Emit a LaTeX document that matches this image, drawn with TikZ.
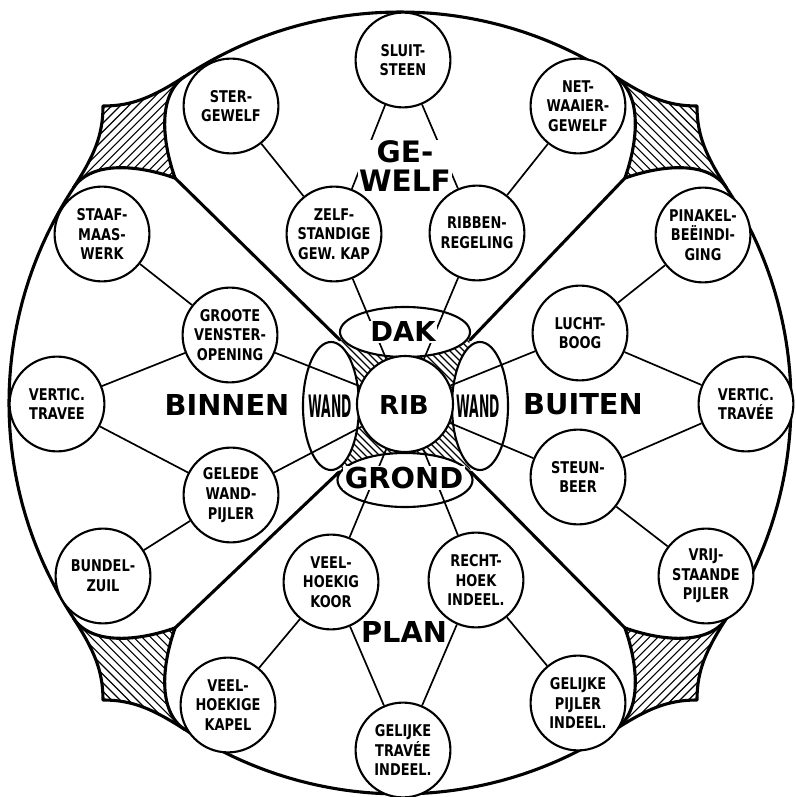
\documentclass[tikz,border=0pt]{standalone}
\usepackage{fontspec}
\usepackage{graphicx}
\setmainfont{DejaVu Sans}
\newfontfamily\circfont{DejaVu Sans}[FakeStretch=0.8]
\usetikzlibrary{shapes.geometric}

\tikzset{
  part/.style={circle, draw, line width=1.5pt, fill=white, minimum size=2.37cm,
    inner sep=0pt, align=center, font=\circfont\bfseries\fontsize{11.5}{14}\selectfont},
  core/.style={ellipse, draw, line width=1.5pt, fill=white, inner sep=0pt},
  biglabel/.style={font=\bfseries\fontsize{20.5}{20}\selectfont, align=center, inner sep=1pt},
  link/.style={line width=1.2pt},
  lobe/.style={line width=2.2pt, line join=round, line cap=round},
  hatchline/.style={line width=0.8pt},
}

\begin{document}
\begin{tikzpicture}[x=0.025cm, y=0.025cm]
    \useasboundingbox (-400,-394) rectangle (396,403);

    % the four lobes and the hatched corners between them
    \foreach \a in {45,135,225,315}{
      \begin{scope}[rotate=\a]
        \begin{scope}
          \clip (318,0) .. controls (350,-15) and (390,-45) .. (383,-79)
            .. controls (391,-42) and (399,-21) .. (420,0)
            .. controls (399,21) and (391,42) .. (383,79)
            .. controls (390,45) and (350,15) .. (318,0) -- cycle;
          \foreach \x in {318,324,...,426} \draw[hatchline] (\x,-90) -- (\x,90);
        \end{scope}
        \draw[lobe] (383,-79) .. controls (391,-42) and (399,-21) .. (420,0)
          .. controls (399,21) and (391,42) .. (383,79);
        \draw[lobe] (383,-79) .. controls (390,-45) and (350,-15) .. (318,0)
          .. controls (350,15) and (390,45) .. (383,79);
      \end{scope}
      \draw[lobe] ({\a+11.7}:391) arc[start angle=\a+11.7, end angle=\a+78.3, radius=391];
    }
    \foreach \a/\tx/\ty in {45/70/63, 135/-60/63, 225/-61/-69, 315/71/-69}
      \draw[lobe] (\tx,\ty) -- (\a:318);

    % hatching round the rib
    \begin{scope}
      \clip (-60,63) -- (-10,55) -- (5,-1) -- (-50,13) -- cycle
            (70,63) -- (20,55) -- (5,-1) -- (60,13) -- cycle
            (-61,-69) -- (-10,-62) -- (5,-1) -- (-50,-19) -- cycle
            (71,-69) -- (20,-62) -- (5,-1) -- (60,-19) -- cycle;
      \foreach \c in {-150,-143,...,150} \draw[hatchline] ({\c-100},100) -- ({\c+100},-100);
    \end{scope}

    % centre
    \node[core, minimum width=1.4cm, minimum height=3.2cm] (wandl) at (-69,-3) {};
    \node[core, minimum width=1.4cm, minimum height=3.2cm] (wandr) at (80,-3) {};
    \node[core, minimum width=3.25cm, minimum height=1.25cm] (dak) at (5,71) {};
    \node[core, minimum width=3.375cm, minimum height=1.35cm] (grond) at (5,-77) {};
    \node[core, circle, minimum size=2.4cm] (rib) at (5,-1) {};

    % gewelf
    \node[part] (sluit) at (3,343) {SLUIT-\\STEEN};
    \node[part] (ster) at (-169,297) {STER-\\GEWELF};
    \node[part] (net) at (178,297) {NET-\\WAAIER-\\GEWELF};
    \node[part] (zelf) at (-66,169) {ZELF-\\STANDIGE\\GEW. KAP};
    \node[part] (ribben) at (77,170) {RIBBEN-\\REGELING};
    % binnen
    \node[part] (staaf) at (-298,169) {STAAF-\\MAAS-\\WERK};
    \node[part] (groote) at (-170,68) {GROOTE\\VENSTER-\\OPENING};
    \node[part] (vertl) at (-343,-1) {VERTIC.\\TRAVEE};
    \node[part] (gelede) at (-169,-92) {GELEDE\\WAND-\\PIJLER};
    \node[part] (bundel) at (-297,-173) {BUNDEL-\\ZUIL};
    % buiten
    \node[part] (pinakel) at (303,168) {PINAKEL-\\BEËINDI-\\GING};
    \node[part] (lucht) at (180,70) {LUCHT-\\BOOG};
    \node[part] (vertr) at (346,-1) {VERTIC.\\TRAVÉE};
    \node[part] (steun) at (178,-74) {STEUN-\\BEER};
    \node[part] (vrij) at (306,-173) {VRIJ-\\STAANDE\\PIJLER};
    % plan
    \node[part] (koor) at (-69,-179) {VEEL-\\HOEKIG\\KOOR};
    \node[part] (recht) at (76,-177) {RECHT-\\HOEK\\INDEEL.};
    \node[part] (kapel) at (-172,-302) {VEEL-\\HOEKIGE\\KAPEL};
    \node[part] (travee) at (3,-347) {GELIJKE\\TRAVÉE\\INDEEL.};
    \node[part] (pijler) at (178,-300) {GELIJKE\\PIJLER\\INDEEL.};

    % connectors
    \foreach \p in {zelf,ribben,groote,gelede,lucht,steun,koor,recht}
      \draw[link] (rib) -- (\p);
    \draw[link] (sluit) -- (zelf);
    \draw[link] (sluit) -- (ribben);
    \draw[link] (ster) -- (zelf);
    \draw[link] (net) -- (ribben);
    \draw[link] (staaf) -- (groote);
    \draw[link] (vertl) -- (groote);
    \draw[link] (vertl) -- (gelede);
    \draw[link] (bundel) -- (gelede);
    \draw[link] (pinakel) -- (lucht);
    \draw[link] (vertr) -- (lucht);
    \draw[link] (vertr) -- (steun);
    \draw[link] (vrij) -- (steun);
    \draw[link] (koor) -- (kapel);
    \draw[link] (koor) -- (travee);
    \draw[link] (recht) -- (travee);
    \draw[link] (recht) -- (pijler);

    % labels
    \node[biglabel, fill=white, font=\bfseries\fontsize{19.5}{20}\selectfont] (daktxt) at (3,71) {DAK};
    \node[biglabel, fill=white] (grondtxt) at (4,-75) {GROND};
    \node[biglabel, font=\bfseries\fontsize{18.5}{20}\selectfont] (ribtxt) at (4,-2) {RIB};
    \node[biglabel] (wandltxt) at (-70,-3) {\scalebox{0.4}[1]{\fontsize{22}{22}\selectfont WAND}};
    \node[biglabel] (wandrtxt) at (78,-3) {\scalebox{0.4}[1]{\fontsize{22}{22}\selectfont WAND}};
    \node[biglabel, fill=white, font=\bfseries\fontsize{21}{20}\selectfont] (geweltxt) at (5,237) {GE-\\WELF};
    \node[biglabel] (binnentxt) at (-173,-2) {BINNEN};
    \node[biglabel] (buitentxt) at (183,-1) {BUITEN};
    \node[biglabel] (plantxt) at (4,-229) {PLAN};
\end{tikzpicture}
\end{document}
